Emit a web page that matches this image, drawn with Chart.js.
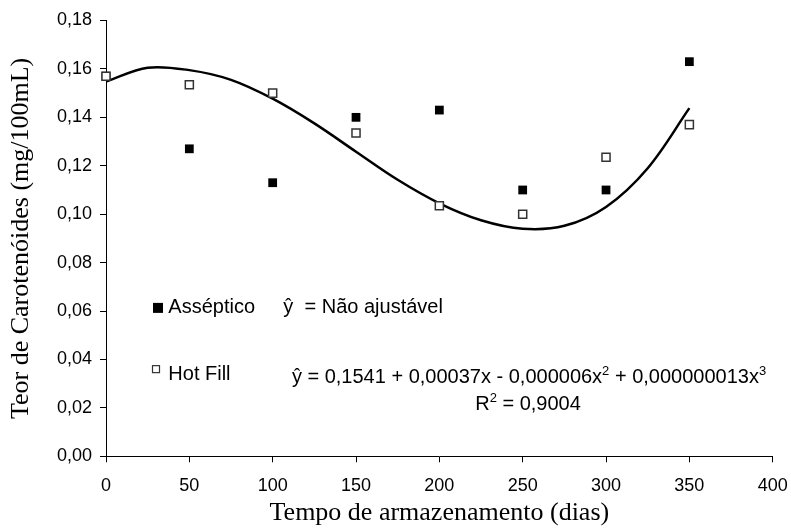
<!DOCTYPE html>
<html>
<head>
<meta charset="utf-8">
<script src="https://cdn.jsdelivr.net/npm/chart.js@4"></script>
<style>
  html, body { margin: 0; padding: 0; background: #fff; }
  #wrap { width: 791px; height: 529px; }
</style>
</head>
<body>
<div id="wrap"><canvas id="myChart"></canvas></div>
<script>
// storage time (days) and carotenoid content (mg/100mL)
const days = [0, 50, 100, 150, 200, 250, 300, 350];
const asseptico = [0.157, 0.127, 0.113, 0.140, 0.143, 0.110, 0.110, 0.163];
const hotFill = [0.157, 0.1535, 0.150, 0.1335, 0.1035, 0.100, 0.1235, 0.137];

// fitted cubic trend line for Hot Fill, sampled from the figure every 25 days
const trendDays = [0, 25, 50, 75, 100, 125, 150, 175, 200, 225, 250, 275, 300, 325, 350];
const trendValues = [0.1548, 0.1605, 0.1595, 0.1555, 0.1477, 0.1375, 0.1258, 0.1142, 0.1045, 0.0975, 0.0940, 0.0952, 0.1030, 0.1190, 0.1438];

const xTicks = [0, 50, 100, 150, 200, 250, 300, 350, 400];
const yTicks = [0, 0.02, 0.04, 0.06, 0.08, 0.10, 0.12, 0.14, 0.16, 0.18];

const sans = "'Liberation Sans', Arial, sans-serif";
const serif = "'Liberation Serif', 'Times New Roman', serif";

const toXY = (xs, ys) => xs.map((x, i) => ({ x: x, y: ys[i] }));

// draws text pieces in a row, small pieces raised as superscripts
function drawRow(ctx, parts, centerX, baseY) {
  const big = "20px " + sans;
  const small = "13px " + sans;
  let total = 0;
  parts.forEach((p) => {
    ctx.font = p[1] ? small : big;
    total += ctx.measureText(p[0]).width;
  });
  let px = centerX - total / 2;
  parts.forEach((p) => {
    ctx.font = p[1] ? small : big;
    ctx.fillText(p[0], px, p[1] ? baseY - 8 : baseY);
    px += ctx.measureText(p[0]).width;
  });
}

// legend and regression text, placed in data units
const notes = {
  id: "notes",
  afterDraw(chart) {
    const { ctx } = chart;
    const x = chart.scales.x;
    const y = chart.scales.y;
    ctx.save();
    ctx.fillStyle = "#000";
    ctx.textBaseline = "alphabetic";
    ctx.textAlign = "left";
    ctx.font = "20px " + sans;

    // filled square swatch
    let cx = x.getPixelForValue(31.2);
    let cy = y.getPixelForValue(0.0613);
    ctx.fillRect(cx - 5, cy - 5, 10, 10);
    ctx.fillText("Asséptico", x.getPixelForValue(37.4), y.getPixelForValue(0.0592));
    ctx.fillText("ŷ  = Não ajustável", x.getPixelForValue(106.4), y.getPixelForValue(0.0592));

    // hollow square swatch
    cx = x.getPixelForValue(30);
    cy = y.getPixelForValue(0.036);
    ctx.strokeStyle = "#333";
    ctx.lineWidth = 1.2;
    ctx.strokeRect(cx - 3.5, cy - 3.5, 7, 7);
    ctx.fillText("Hot Fill", x.getPixelForValue(37.4), y.getPixelForValue(0.0315));

    drawRow(ctx, [
      ["ŷ = 0,1541 + 0,00037x - 0,000006x", false],
      ["2", true],
      [" + 0,000000013x", false],
      ["3", true],
    ], x.getPixelForValue(253.8), y.getPixelForValue(0.0303));

    drawRow(ctx, [["R", false], ["2", true], [" = 0,9004", false]],
      x.getPixelForValue(253.2), y.getPixelForValue(0.0191));
    ctx.restore();
  },
};

const ctx = document.getElementById("myChart").getContext("2d");

new Chart(ctx, {
  type: "scatter",
  data: {
    datasets: [
      {
        label: "Hot Fill",
        data: toXY(days, hotFill),
        pointStyle: "rect",
        pointRadius: 5.7,
        pointBackgroundColor: "#fff",
        pointBorderColor: "#333",
        pointBorderWidth: 1.5,
        clip: false,
      },
      {
        label: "Asséptico",
        data: toXY(days, asseptico),
        pointStyle: "rect",
        pointRadius: 6.2,
        pointBackgroundColor: "#000",
        pointBorderColor: "#000",
        pointBorderWidth: 0,
        clip: false,
      },
      {
        label: "trend",
        data: toXY(trendDays, trendValues),
        showLine: true,
        borderColor: "#000",
        borderWidth: 2.5,
        pointRadius: 0,
        tension: 0.35,
        clip: false,
      },
    ],
  },
  options: {
    responsive: true,
    maintainAspectRatio: false,
    animation: false,
    layout: {
      padding: { top: 20.5, right: 18.3, left: 0, bottom: 0 },
    },
    plugins: {
      legend: { display: false },
      tooltip: { enabled: false },
    },
    scales: {
      x: {
        type: "linear",
        min: 0,
        max: 400,
        afterFit: (scale) => {
          scale.height = 72.7;
          scale.paddingLeft = 0;
          scale.paddingRight = 0;
        },
        afterBuildTicks: (scale) => {
          scale.ticks = xTicks.map((v) => ({ value: v }));
        },
        grid: {
          drawOnChartArea: false,
          drawTicks: true,
          tickLength: 6,
          color: "#000",
        },
        border: { display: true, color: "#000", width: 1 },
        ticks: {
          color: "#000",
          padding: 13,
          maxRotation: 0,
          font: { family: sans, size: 18 },
        },
        title: {
          display: true,
          text: "Tempo de armazenamento (dias)",
          color: "#000",
          padding: { top: 0, bottom: 0 },
          font: { family: serif, size: 26 },
        },
      },
      y: {
        min: 0,
        max: 0.18,
        afterFit: (scale) => {
          scale.width = 106;
          scale.paddingTop = 0;
          scale.paddingBottom = 0;
        },
        afterBuildTicks: (scale) => {
          scale.ticks = yTicks.map((v) => ({ value: v }));
        },
        grid: {
          drawOnChartArea: false,
          drawTicks: true,
          tickLength: 6,
          color: "#000",
        },
        border: { display: true, color: "#000", width: 1 },
        ticks: {
          color: "#000",
          padding: 8,
          font: { family: sans, size: 18 },
          callback: (v) => v.toFixed(2).replace(".", ","),
        },
        title: {
          display: true,
          text: "Teor de Carotenóides (mg/100mL)",
          color: "#000",
          padding: { top: 6, bottom: 0 },
          font: { family: serif, size: 26 },
        },
      },
    },
  },
  plugins: [notes],
});
</script>
</body>
</html>
